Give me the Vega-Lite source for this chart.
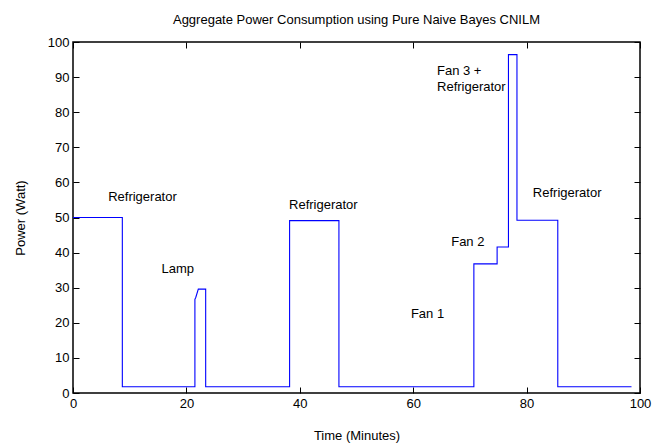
{
  "$schema": "https://vega.github.io/schema/vega-lite/v6.json",
  "autosize": {"type": "none"},
  "width": 567,
  "height": 351,
  "padding": {"left": 73, "top": 42, "right": 13, "bottom": 53},
  "background": "white",
  "title": {"text": "Aggregate Power Consumption using Pure Naive Bayes CNILM", "fontSize": 13, "fontWeight": "normal", "font": "Liberation Sans", "color": "black", "offset": 9, "anchor": "middle"},
  "config": {
    "view": {"stroke": "black", "strokeWidth": 1.5},
    "axis": {"grid": false, "domain": false, "labelFont": "Liberation Sans", "titleFont": "Liberation Sans", "labelFontSize": 13, "titleFontSize": 13, "titleFontWeight": "normal", "labelColor": "black", "titleColor": "black", "tickColor": "black", "tickSize": -6, "tickWidth": 1, "labelFlush": false}
  },
  "datasets": {
    "power": [
      {"i": 0, "t": 0, "p": 50},
      {"i": 1, "t": 8.7, "p": 50},
      {"i": 2, "t": 8.7, "p": 1.8},
      {"i": 3, "t": 21.5, "p": 1.8},
      {"i": 4, "t": 21.5, "p": 26.7},
      {"i": 5, "t": 21.65, "p": 27.2},
      {"i": 6, "t": 22.1, "p": 29.6},
      {"i": 7, "t": 23.4, "p": 29.6},
      {"i": 8, "t": 23.4, "p": 1.8},
      {"i": 9, "t": 38.2, "p": 1.8},
      {"i": 10, "t": 38.2, "p": 49.1},
      {"i": 11, "t": 46.9, "p": 49.1},
      {"i": 12, "t": 46.9, "p": 1.8},
      {"i": 13, "t": 70.7, "p": 1.8},
      {"i": 14, "t": 70.7, "p": 36.8},
      {"i": 15, "t": 74.8, "p": 36.8},
      {"i": 16, "t": 74.8, "p": 41.6},
      {"i": 17, "t": 76.8, "p": 41.6},
      {"i": 18, "t": 76.8, "p": 96.4},
      {"i": 19, "t": 78.3, "p": 96.4},
      {"i": 20, "t": 78.3, "p": 49.2},
      {"i": 21, "t": 85.5, "p": 49.2},
      {"i": 22, "t": 85.5, "p": 1.8},
      {"i": 23, "t": 98.5, "p": 1.8}
    ],
    "labels": [
      {"t": 6.2, "p": 55.9, "label": "Refrigerator"},
      {"t": 15.6, "p": 35.4, "label": "Lamp"},
      {"t": 38.1, "p": 53.6, "label": "Refrigerator"},
      {"t": 59.6, "p": 22.6, "label": "Fan 1"},
      {"t": 66.7, "p": 43.0, "label": "Fan 2"},
      {"t": 64.2, "p": 91.8, "label": "Fan 3 +"},
      {"t": 64.2, "p": 87.3, "label": "Refrigerator"},
      {"t": 81.1, "p": 57.0, "label": "Refrigerator"}
    ]
  },
  "layer": [
    {
      "data": {"name": "power"},
      "mark": {"type": "line", "color": "#0000ff", "strokeWidth": 1.1},
      "encoding": {
        "x": {"field": "t", "type": "quantitative", "scale": {"domain": [0, 100], "nice": false}, "axis": {"title": "Time (Minutes)", "values": [0, 20, 40, 60, 80, 100], "labelPadding": 10, "titleY": 42, "titleBaseline": "middle"}},
        "y": {"field": "p", "type": "quantitative", "scale": {"domain": [0, 100], "nice": false}, "axis": {"title": "Power (Watt)", "values": [0, 10, 20, 30, 40, 50, 60, 70, 80, 90, 100], "labelPadding": 10, "titleX": -53, "titleBaseline": "middle"}},
        "order": {"field": "i", "type": "quantitative"}
      }
    },
    {
      "data": {"name": "labels"},
      "mark": {"type": "text", "align": "left", "baseline": "middle", "font": "Liberation Sans", "fontSize": 13, "color": "black"},
      "encoding": {
        "x": {"field": "t", "type": "quantitative", "axis": {"orient": "top", "labels": false, "title": null, "values": [0, 20, 40, 60, 80, 100]}},
        "y": {"field": "p", "type": "quantitative", "axis": {"orient": "right", "labels": false, "title": null, "values": [0, 10, 20, 30, 40, 50, 60, 70, 80, 90, 100]}},
        "text": {"field": "label"}
      }
    }
  ],
  "resolve": {"axis": {"x": "independent", "y": "independent"}}
}
